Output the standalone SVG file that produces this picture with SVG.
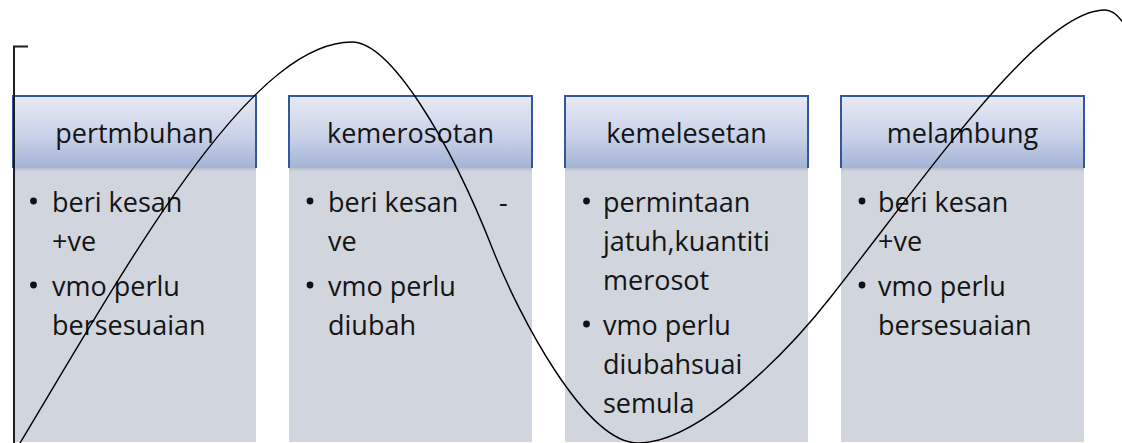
<svg xmlns="http://www.w3.org/2000/svg" width="1122" height="443" viewBox="0 0 1122 443">
  <defs>
    <linearGradient id="hdrFill" x1="0" y1="0" x2="0" y2="1">
      <stop offset="0" stop-color="#e8eaf4"/>
      <stop offset="0.55" stop-color="#c9d2e8"/>
      <stop offset="1" stop-color="#a3b4d6"/>
    </linearGradient>
    <linearGradient id="hdrShadow" x1="0" y1="0" x2="0" y2="1">
      <stop offset="0" stop-color="#9aa3b5" stop-opacity="0.55"/>
      <stop offset="1" stop-color="#d1d5de" stop-opacity="0"/>
    </linearGradient>
  </defs>
  <style>
    .body { fill: #d1d5de; }
    .hdr { fill: url(#hdrFill); }
    .hdr-edge { fill: none; stroke: #33579a; stroke-width: 2; }
    .shadow { fill: url(#hdrShadow); }
    .dot { fill: #111111; }
    text { font-family: "Open Sans", "Noto Sans", sans-serif; font-size: 27px; fill: #141414; }
    .title { text-anchor: middle; }
    .curve { fill: none; stroke: #000; stroke-width: 1.4; stroke-linecap: round; }
    .axis { fill: none; stroke: #1e1e1e; stroke-width: 2; }
  </style>

  <rect width="1122" height="443" fill="#ffffff"/>

  <!-- phase 1 -->
  <g id="pertumbuhan">
    <rect class="body" x="13" y="168" width="243" height="274"/>
    <rect class="shadow" x="13" y="168" width="243" height="5"/>
    <rect class="hdr" x="13" y="96" width="243" height="72"/>
    <path class="hdr-edge" d="M13,168 V96 H256 V168"/>
    <text class="title" x="134.5" y="143">pertmbuhan</text>
    <circle class="dot" cx="33.5" cy="201" r="3.4"/>
    <text x="52" y="212">beri kesan</text>
    <text x="52" y="251">+ve</text>
    <circle class="dot" cx="33.5" cy="285" r="3.4"/>
    <text x="52" y="296">vmo perlu</text>
    <text x="52" y="335">bersesuaian</text>
  </g>

  <!-- phase 2 -->
  <g id="kemerosotan">
    <rect class="body" x="289" y="168" width="243" height="274"/>
    <rect class="shadow" x="289" y="168" width="243" height="5"/>
    <rect class="hdr" x="289" y="96" width="243" height="72"/>
    <path class="hdr-edge" d="M289,168 V96 H532 V168"/>
    <text class="title" x="410.5" y="143">kemerosotan</text>
    <circle class="dot" cx="310" cy="201" r="3.4"/>
    <text x="328" y="212">beri kesan</text>
    <text x="499" y="212">-</text>
    <text x="328" y="251">ve</text>
    <circle class="dot" cx="310" cy="285" r="3.4"/>
    <text x="328" y="296">vmo perlu</text>
    <text x="328" y="335">diubah</text>
  </g>

  <!-- phase 3 -->
  <g id="kemelesetan">
    <rect class="body" x="565" y="168" width="243" height="274"/>
    <rect class="shadow" x="565" y="168" width="243" height="5"/>
    <rect class="hdr" x="565" y="96" width="243" height="72"/>
    <path class="hdr-edge" d="M565,168 V96 H808 V168"/>
    <text class="title" x="686.5" y="143">kemelesetan</text>
    <circle class="dot" cx="586.5" cy="201" r="3.4"/>
    <text x="603" y="212">permintaan</text>
    <text x="603" y="251">jatuh,kuantiti</text>
    <text x="603" y="290">merosot</text>
    <circle class="dot" cx="586.5" cy="324" r="3.4"/>
    <text x="603" y="335">vmo perlu</text>
    <text x="603" y="374">diubahsuai</text>
    <text x="603" y="413">semula</text>
  </g>

  <!-- phase 4 -->
  <g id="melambung">
    <rect class="body" x="841" y="168" width="243" height="274"/>
    <rect class="shadow" x="841" y="168" width="243" height="5"/>
    <rect class="hdr" x="841" y="96" width="243" height="72"/>
    <path class="hdr-edge" d="M841,168 V96 H1084 V168"/>
    <text class="title" x="962.5" y="143">melambung</text>
    <circle class="dot" cx="862" cy="201" r="3.4"/>
    <text x="878" y="212">beri kesan</text>
    <text x="878" y="251">+ve</text>
    <circle class="dot" cx="862" cy="285" r="3.4"/>
    <text x="878" y="296">vmo perlu</text>
    <text x="878" y="335">bersesuaian</text>
  </g>

  <!-- axis and business-cycle wave -->
  <g id="connectors">
    <path class="axis" d="M28,46.5 H14 V443"/>
    <path class="curve" d="M20,443
      C130,260 250,42 352,42
      C390,42 450,140 493,250
      C518,314 585,443 638,443
      C700,443 790,349 830,298
      C930,171 1040,10 1105,10
      C1112,10 1118,15 1124,24"/>
  </g>
</svg>
